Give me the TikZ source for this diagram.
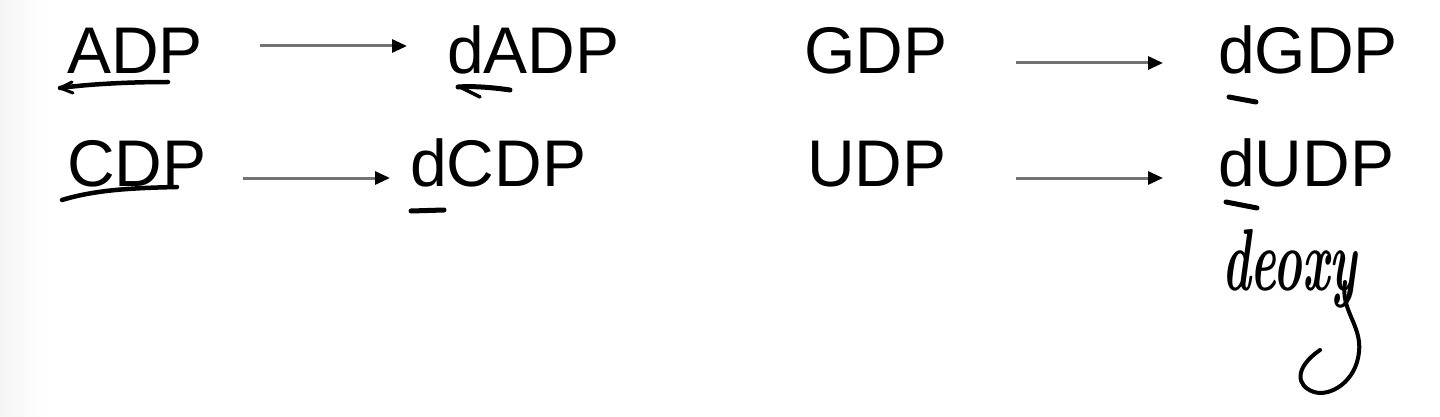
\documentclass[tikz,border=0pt]{standalone}
\usepackage{fontspec}
\usepackage{graphicx}
\newfontfamily\arialfont{Liberation Sans}
\usetikzlibrary{arrows.meta}
\begin{document}
\begin{tikzpicture}[x=1pt,y=-1pt,
  lbl/.style={anchor=base west,inner sep=0pt,outer sep=0pt,font=\arialfont\fontsize{66}{70}\selectfont},
  rxn/.style={draw=black!55,line width=3pt,-{Triangle[length=15pt,width=13pt,color=black]}},
  penmark/.style={line width=4.5pt,line cap=round,line join=round,draw=black}]
\useasboundingbox (0,0) rectangle (1440,417);
\fill[white] (0,0) rectangle (1440,417);
\shade[left color=black!4,right color=white] (0,0) rectangle (45,417);
% labels
\node[lbl] (ADP) at (67,73.5) {ADP};
\node[lbl] (dADP) at (447,73.5) {dADP};
\node[lbl] (CDP) at (67,186.5) {CDP};
\node[lbl] (dCDP) at (410,186.5) {dCDP};
\node[lbl] (GDP) at (804,73.5) {GDP};
\node[lbl] (dGDP) at (1218,73.5) {dGDP};
\node[lbl] (UDP) at (807,186.5) {UDP};
\node[lbl] (dUDP) at (1218,186.5) {dUDP};
% reaction arrows
\draw[rxn] ([xshift=57pt,yshift=27.5pt]ADP.base east) -- ([xshift=-40pt,yshift=27.5pt]dADP.base west);
\draw[rxn] ([xshift=37pt,yshift=8.5pt]CDP.base east) -- ([xshift=-20pt,yshift=8.5pt]dCDP.base west);
\draw[rxn] ([xshift=69pt,yshift=10.5pt]GDP.base east) -- ([xshift=-55pt,yshift=10.5pt]dGDP.base west);
\draw[rxn] ([xshift=70pt,yshift=8.5pt]UDP.base east) -- ([xshift=-55pt,yshift=8.5pt]dUDP.base west);
% handwritten marks
\draw[penmark] (168,82) .. controls (130,82) and (90,84) .. (60,88);
\draw[penmark,line width=3pt] (72,82) -- (60,88) -- (73,93);
\draw[penmark,line width=5pt] (510,90) .. controls (490,87) and (470,86) .. (458,87);
\draw[penmark,line width=3.5pt] (462,88) -- (480,97);
\draw[penmark] (62,200) .. controls (95,190) and (130,188) .. (177,187);
\draw[penmark,line width=5pt] (411,211) -- (444,210);
\draw[penmark,line width=5pt] (1229,97) -- (1256,102);
\draw[penmark,line width=5pt] (1226,202) -- (1257,208);
% handwritten note
\node[anchor=base west,inner sep=0pt,font=\fontsize{88}{90}\selectfont\bfseries\itshape] (deoxy) at (1222,290) {\scalebox{0.55}[1]{deoxy}};
\draw[penmark,line width=4pt] (1345,282) .. controls (1340,310) and (1362,325) .. (1359,352) .. controls (1356,382) and (1330,397) .. (1314,392) .. controls (1296,386) and (1294,368) .. (1320,350);
\end{tikzpicture}
\end{document}
